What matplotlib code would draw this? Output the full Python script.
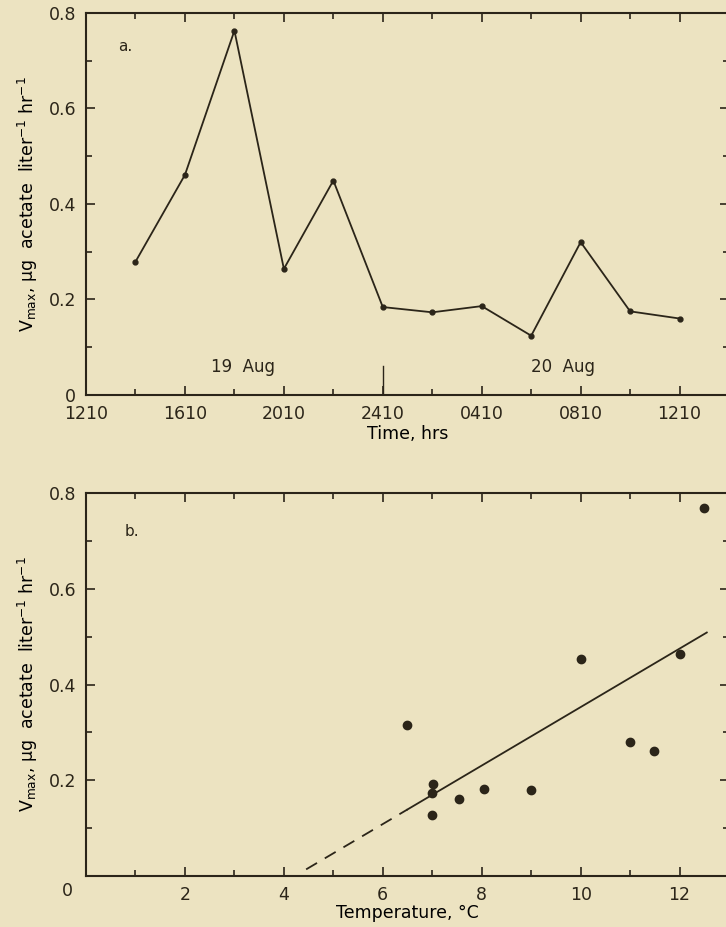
import matplotlib
matplotlib.use("Agg")
import matplotlib.pyplot as plt
from matplotlib.ticker import MultipleLocator, FixedLocator, FuncFormatter

# panel a: hours after 1210 on 19 Aug, Vmax
time_hrs = [2, 4, 6, 8, 10, 12, 14, 16, 18, 20, 22, 24]
vmax_time = [0.279, 0.461, 0.763, 0.264, 0.449, 0.184, 0.173, 0.186, 0.124, 0.320, 0.175, 0.160]
time_ticks = [0, 4, 8, 12, 16, 20, 24]
time_labels = ["1210", "1610", "2010", "2410", "0410", "0810", "1210"]

# panel b: temperature vs Vmax
temp_c = [12.5, 12.0, 10.0, 6.49, 11.0, 11.48, 7.02, 7.0, 8.04, 9.0, 7.54, 7.0]
vmax_temp = [0.768, 0.464, 0.454, 0.316, 0.281, 0.261, 0.192, 0.173, 0.182, 0.180, 0.161, 0.127]
fit_slope = 0.0611
fit_intercept = -0.258
fit_dashed_x = [4.45, 6.5]
fit_solid_x = [6.5, 12.55]

BG = "#ECE3C1"
INK = "#2b2519"

plt.rcParams["font.family"] = "DejaVu Sans"
plt.rcParams["text.color"] = INK
plt.rcParams["axes.edgecolor"] = INK
plt.rcParams["xtick.color"] = INK
plt.rcParams["ytick.color"] = INK
plt.rcParams["mathtext.default"] = "regular"

fig = plt.figure(figsize=(7.26, 9.27), dpi=100, facecolor=BG)
ax_a = fig.add_axes([0.1185, 0.574, 0.8857, 0.412])
ax_b = fig.add_axes([0.1185, 0.055, 0.8857, 0.413])

ylab = r"V$_{max}$, $\mu$g  acetate  liter$^{-1}$ hr$^{-1}$"


def yfmt(v, pos):
    return "0" if abs(v) < 1e-9 else "%.1f" % v


def style(ax):
    ax.set_facecolor(BG)
    for s in ax.spines.values():
        s.set_linewidth(1.5)
    ax.tick_params(which="both", direction="in", top=True, right=True,
                   width=1.2, labelsize=12.5)
    ax.tick_params(which="major", length=6.5, pad=7)
    ax.tick_params(which="minor", length=4)
    ax.set_ylim(0, 0.8)
    ax.yaxis.set_major_locator(MultipleLocator(0.2))
    ax.yaxis.set_minor_locator(MultipleLocator(0.1))
    ax.yaxis.set_major_formatter(FuncFormatter(yfmt))
    ax.set_ylabel(ylab, fontsize=12.5, labelpad=6)


# ---- panel a
style(ax_a)
ax_a.plot(time_hrs, vmax_time, "-", color=INK, lw=1.3, marker="o", ms=3.5)
ax_a.set_xlim(0, 26)
ax_a.xaxis.set_major_locator(FixedLocator(time_ticks))
ax_a.set_xticklabels(time_labels)
ax_a.xaxis.set_minor_locator(MultipleLocator(2))
ax_a.plot([12, 12], [0, 0.061], color=INK, lw=1.0)
ax_a.text(6.35, 0.059, "19  Aug", fontsize=12, ha="center", va="center")
ax_a.text(19.3, 0.059, "20  Aug", fontsize=12, ha="center", va="center")
ax_a.text(1.6, 0.73, "a.", fontsize=11, ha="center", va="center")
ax_a.set_xlabel("Time, hrs", fontsize=12.5, labelpad=2)

# ---- panel b
style(ax_b)
ax_b.scatter(temp_c, vmax_temp, s=36, color=INK, zorder=3)
ax_b.plot(fit_solid_x, [fit_slope * x + fit_intercept for x in fit_solid_x],
          "-", color=INK, lw=1.3)
ax_b.plot(fit_dashed_x, [fit_slope * x + fit_intercept for x in fit_dashed_x],
          color=INK, lw=1.3, dashes=(7, 5))
ax_b.set_xlim(0, 13)
ax_b.xaxis.set_major_locator(FixedLocator([2, 4, 6, 8, 10, 12]))
ax_b.xaxis.set_minor_locator(FixedLocator([1, 3, 5, 7, 9, 11]))
ax_b.yaxis.set_major_locator(FixedLocator([0.2, 0.4, 0.6, 0.8]))
ax_b.text(-0.37, -0.04, "0", fontsize=12.5, ha="center", va="center",
          transform=ax_b.get_xaxis_transform())
ax_b.text(0.93, 0.72, "b.", fontsize=11, ha="center", va="center")
ax_b.set_xlabel("Temperature, °C", fontsize=12.5, labelpad=0)

fig.savefig("out.png", dpi=100, facecolor=BG)
